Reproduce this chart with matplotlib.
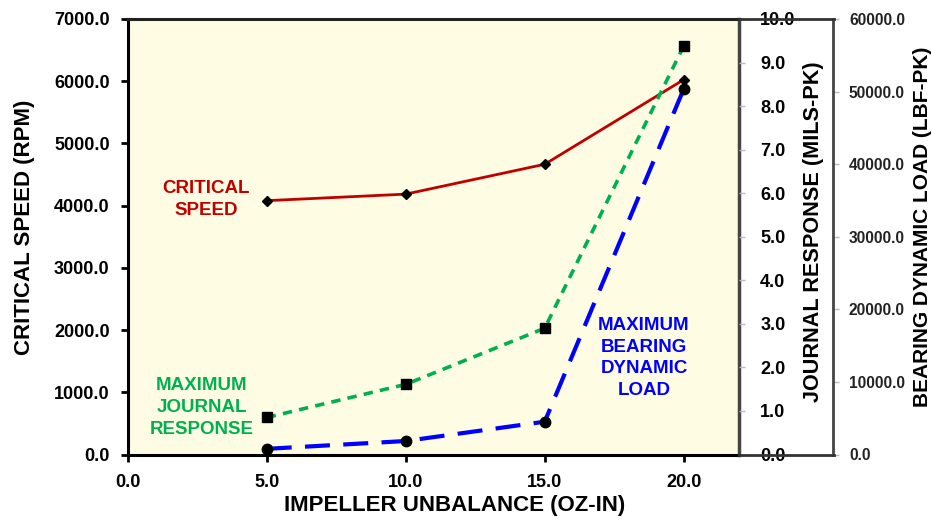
import matplotlib
matplotlib.use("Agg")
import matplotlib.pyplot as plt
from matplotlib.lines import Line2D
from matplotlib.ticker import FormatStrFormatter

plt.rcParams['font.family'] = ['Liberation Sans', 'DejaVu Sans']
plt.rcParams['font.weight'] = 'bold'

unbalance = [5.0, 10.0, 15.0, 20.0]
critical_speed = [4080, 4185, 4665, 6025]
journal_response = [0.85, 1.61, 2.90, 9.38]
bearing_load = [780, 1860, 4520, 50350]

x_ticks = [0, 5, 10, 15, 20]
left_ticks = [0, 1000, 2000, 3000, 4000, 5000, 6000, 7000]
journal_ticks = [0, 1, 2, 3, 4, 5, 6, 7, 8, 9, 10]
load_ticks = [0, 10000, 20000, 30000, 40000, 50000, 60000]

RED = '#C00000'
GREEN = '#00B050'
BLUE = '#0000FF'

W, H = 932, 520
fig = plt.figure(figsize=(W / 100, H / 100), dpi=100)
L, R, B, T = 127.7, 739.3, 454.5, 19.0
ax = fig.add_axes([L / W, 1 - B / H, (R - L) / W, (B - T) / H])
ax.set_facecolor('#FEFDE3')


def fx(px):
    return px / W


def fy(py):
    return 1 - py / H


# critical speed
ax.plot(unbalance, critical_speed, color=RED, lw=2.0, marker='D', ms=5,
        mfc='black', mec='black', zorder=3)
ax.set_xlim(0, 22)
ax.set_ylim(0, 7000)
ax.set_xticks(x_ticks)
ax.set_yticks(left_ticks)
ax.xaxis.set_major_formatter(FormatStrFormatter('%.1f'))
ax.yaxis.set_major_formatter(FormatStrFormatter('%.1f'))
ax.tick_params(axis='both', direction='out', length=5, width=2, labelsize=13,
               color='black')
ax.tick_params(axis='y', pad=8)
ax.tick_params(axis='x', pad=9)
for s in ['left', 'bottom']:
    ax.spines[s].set_linewidth(2.2)
    ax.spines[s].set_color('black')
ax.spines['top'].set_linewidth(2.2)
ax.spines['top'].set_color('#222222')
ax.spines['right'].set_linewidth(2.5)
ax.spines['right'].set_color('#444444')

# journal response
ax2 = ax.twinx()
ax2.plot(unbalance, journal_response, color=GREEN, lw=2.6, ls=(0, (2.6, 2.0)),
         marker='s', ms=6.5, mfc='black', mec='black', zorder=3)
ax2.set_ylim(0, 10)
ax2.set_yticks(journal_ticks)
ax2.yaxis.set_major_formatter(FormatStrFormatter('%.1f'))
ax2.tick_params(axis='y', direction='out', length=4, width=1, color='#BBBBBB',
                labelsize=13, pad=11)
for s in ['left', 'top', 'bottom', 'right']:
    ax2.spines[s].set_visible(False)

# bearing dynamic load
ax3 = ax.twinx()
ax3.plot(unbalance, bearing_load, color=BLUE, lw=3.0, ls=(0, (6, 3.2)),
         marker='o', ms=7.5, mfc='black', mec='black', zorder=4)
ax3.set_ylim(0, 60000)
ax3.set_yticks(load_ticks)
ax3.yaxis.set_major_formatter(FormatStrFormatter('%.1f'))
off = (833.0 - L) / (R - L)
ax3.spines['right'].set_position(('axes', off))
ax3.spines['right'].set_color('#444444')
ax3.spines['right'].set_linewidth(2.0)
for s in ['left', 'top', 'bottom']:
    ax3.spines[s].set_visible(False)
ax3.tick_params(axis='y', direction='out', length=4, width=1, color='#BBBBBB',
                labelsize=11.2, pad=7.5, labelcolor='#222222')

# axis titles
fig.text(fx(455), fy(505), 'IMPELLER UNBALANCE (OZ-IN)', fontsize=16,
         fontweight='bold', ha='center', va='center')
fig.text(fx(25), fy(227), 'CRITICAL SPEED (RPM)', fontsize=16,
         fontweight='bold', ha='center', va='center', rotation=90)
fig.text(fx(813), fy(232), 'JOURNAL RESPONSE (MILS-PK)', fontsize=15.6,
         fontweight='bold', ha='center', va='center', rotation=90)
fig.text(fx(923), fy(227), 'BEARING DYNAMIC LOAD (LBF-PK)', fontsize=15,
         fontweight='bold', ha='center', va='center', rotation=90)

# box lines joining the two right axes
for yy in (T, B):
    fig.add_artist(Line2D([fx(R), fx(834)], [fy(yy), fy(yy)],
                          transform=fig.transFigure, color='#333333', lw=2.0,
                          zorder=5))

# inline labels
fig.text(fx(206), fy(199.5), 'CRITICAL\nSPEED', color=RED, fontsize=13.5,
         fontweight='bold', ha='center', va='center', linespacing=1.36)
fig.text(fx(202), fy(407.5), 'MAXIMUM\nJOURNAL\nRESPONSE', color=GREEN,
         fontsize=13.5, fontweight='bold', ha='center', va='center',
         linespacing=1.36)
fig.text(fx(644), fy(358), 'MAXIMUM\nBEARING\nDYNAMIC\nLOAD', color=BLUE,
         fontsize=13.5, fontweight='bold', ha='center', va='center',
         linespacing=1.36)

fig.savefig('out.png', dpi=100)
